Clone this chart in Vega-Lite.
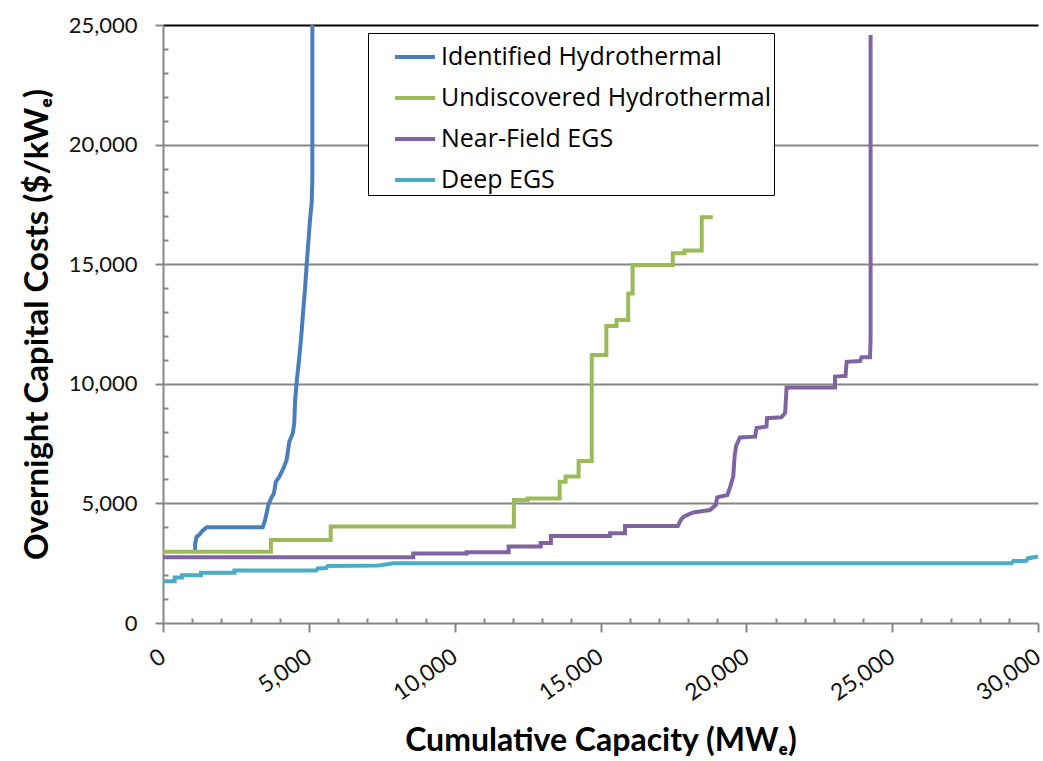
{
  "$schema": "https://vega.github.io/schema/vega-lite/v6.json",
  "autosize": {"type": "none"},
  "padding": {"left": 163, "top": 25, "right": 5, "bottom": 138},
  "width": 875,
  "height": 598,
  "background": "white",
  "config": {
    "view": {"stroke": null},
    "font": "Lato"
  },
  "data": {
    "values": [
      {"s": "Identified Hydrothermal", "i": 1, "x": 1100, "y": 3000},
      {"s": "Identified Hydrothermal", "i": 2, "x": 1100, "y": 3300},
      {"s": "Identified Hydrothermal", "i": 3, "x": 1150, "y": 3600},
      {"s": "Identified Hydrothermal", "i": 4, "x": 1250, "y": 3700},
      {"s": "Identified Hydrothermal", "i": 5, "x": 1350, "y": 3850},
      {"s": "Identified Hydrothermal", "i": 6, "x": 1500, "y": 4000},
      {"s": "Identified Hydrothermal", "i": 7, "x": 3420, "y": 4000},
      {"s": "Identified Hydrothermal", "i": 8, "x": 3500, "y": 4300},
      {"s": "Identified Hydrothermal", "i": 9, "x": 3610, "y": 4930},
      {"s": "Identified Hydrothermal", "i": 10, "x": 3730, "y": 5280},
      {"s": "Identified Hydrothermal", "i": 11, "x": 3800, "y": 5400},
      {"s": "Identified Hydrothermal", "i": 12, "x": 3870, "y": 5900},
      {"s": "Identified Hydrothermal", "i": 13, "x": 3990, "y": 6120},
      {"s": "Identified Hydrothermal", "i": 14, "x": 4130, "y": 6470},
      {"s": "Identified Hydrothermal", "i": 15, "x": 4240, "y": 6810},
      {"s": "Identified Hydrothermal", "i": 16, "x": 4330, "y": 7580},
      {"s": "Identified Hydrothermal", "i": 17, "x": 4450, "y": 7930},
      {"s": "Identified Hydrothermal", "i": 18, "x": 4500, "y": 8350},
      {"s": "Identified Hydrothermal", "i": 19, "x": 4530, "y": 9320},
      {"s": "Identified Hydrothermal", "i": 20, "x": 4590, "y": 10160},
      {"s": "Identified Hydrothermal", "i": 21, "x": 4640, "y": 10720},
      {"s": "Identified Hydrothermal", "i": 22, "x": 4730, "y": 11830},
      {"s": "Identified Hydrothermal", "i": 23, "x": 4810, "y": 13090},
      {"s": "Identified Hydrothermal", "i": 24, "x": 4870, "y": 14000},
      {"s": "Identified Hydrothermal", "i": 25, "x": 4930, "y": 15050},
      {"s": "Identified Hydrothermal", "i": 26, "x": 5000, "y": 16200},
      {"s": "Identified Hydrothermal", "i": 27, "x": 5040, "y": 16850},
      {"s": "Identified Hydrothermal", "i": 28, "x": 5100, "y": 17600},
      {"s": "Identified Hydrothermal", "i": 29, "x": 5120, "y": 18500},
      {"s": "Identified Hydrothermal", "i": 30, "x": 5120, "y": 25000},

      {"s": "Undiscovered Hydrothermal", "i": 1, "x": 0, "y": 2980},
      {"s": "Undiscovered Hydrothermal", "i": 2, "x": 3700, "y": 2980},
      {"s": "Undiscovered Hydrothermal", "i": 3, "x": 3700, "y": 3470},
      {"s": "Undiscovered Hydrothermal", "i": 4, "x": 5750, "y": 3470},
      {"s": "Undiscovered Hydrothermal", "i": 5, "x": 5750, "y": 4030},
      {"s": "Undiscovered Hydrothermal", "i": 6, "x": 12030, "y": 4030},
      {"s": "Undiscovered Hydrothermal", "i": 7, "x": 12030, "y": 5140},
      {"s": "Undiscovered Hydrothermal", "i": 8, "x": 12500, "y": 5140},
      {"s": "Undiscovered Hydrothermal", "i": 9, "x": 12500, "y": 5210},
      {"s": "Undiscovered Hydrothermal", "i": 10, "x": 13600, "y": 5210},
      {"s": "Undiscovered Hydrothermal", "i": 11, "x": 13600, "y": 5900},
      {"s": "Undiscovered Hydrothermal", "i": 12, "x": 13800, "y": 5900},
      {"s": "Undiscovered Hydrothermal", "i": 13, "x": 13800, "y": 6120},
      {"s": "Undiscovered Hydrothermal", "i": 14, "x": 14250, "y": 6120},
      {"s": "Undiscovered Hydrothermal", "i": 15, "x": 14250, "y": 6770},
      {"s": "Undiscovered Hydrothermal", "i": 16, "x": 14700, "y": 6770},
      {"s": "Undiscovered Hydrothermal", "i": 17, "x": 14700, "y": 11200},
      {"s": "Undiscovered Hydrothermal", "i": 18, "x": 15200, "y": 11200},
      {"s": "Undiscovered Hydrothermal", "i": 19, "x": 15200, "y": 12420},
      {"s": "Undiscovered Hydrothermal", "i": 20, "x": 15550, "y": 12420},
      {"s": "Undiscovered Hydrothermal", "i": 21, "x": 15550, "y": 12670},
      {"s": "Undiscovered Hydrothermal", "i": 22, "x": 15950, "y": 12670},
      {"s": "Undiscovered Hydrothermal", "i": 23, "x": 15950, "y": 13780},
      {"s": "Undiscovered Hydrothermal", "i": 24, "x": 16100, "y": 13780},
      {"s": "Undiscovered Hydrothermal", "i": 25, "x": 16100, "y": 14970},
      {"s": "Undiscovered Hydrothermal", "i": 26, "x": 17480, "y": 14970},
      {"s": "Undiscovered Hydrothermal", "i": 27, "x": 17480, "y": 15460},
      {"s": "Undiscovered Hydrothermal", "i": 28, "x": 17880, "y": 15460},
      {"s": "Undiscovered Hydrothermal", "i": 29, "x": 17880, "y": 15570},
      {"s": "Undiscovered Hydrothermal", "i": 30, "x": 18470, "y": 15570},
      {"s": "Undiscovered Hydrothermal", "i": 31, "x": 18470, "y": 16960},
      {"s": "Undiscovered Hydrothermal", "i": 32, "x": 18850, "y": 16960},

      {"s": "Near-Field EGS", "i": 1, "x": 0, "y": 2745},
      {"s": "Near-Field EGS", "i": 2, "x": 8580, "y": 2745},
      {"s": "Near-Field EGS", "i": 3, "x": 8580, "y": 2910},
      {"s": "Near-Field EGS", "i": 4, "x": 10410, "y": 2910},
      {"s": "Near-Field EGS", "i": 5, "x": 10410, "y": 2960},
      {"s": "Near-Field EGS", "i": 6, "x": 11850, "y": 2960},
      {"s": "Near-Field EGS", "i": 7, "x": 11850, "y": 3200},
      {"s": "Near-Field EGS", "i": 8, "x": 12950, "y": 3200},
      {"s": "Near-Field EGS", "i": 9, "x": 12950, "y": 3340},
      {"s": "Near-Field EGS", "i": 10, "x": 13300, "y": 3340},
      {"s": "Near-Field EGS", "i": 11, "x": 13300, "y": 3640},
      {"s": "Near-Field EGS", "i": 12, "x": 15330, "y": 3640},
      {"s": "Near-Field EGS", "i": 13, "x": 15330, "y": 3750},
      {"s": "Near-Field EGS", "i": 14, "x": 15840, "y": 3750},
      {"s": "Near-Field EGS", "i": 15, "x": 15840, "y": 4050},
      {"s": "Near-Field EGS", "i": 16, "x": 17650, "y": 4050},
      {"s": "Near-Field EGS", "i": 17, "x": 17750, "y": 4300},
      {"s": "Near-Field EGS", "i": 18, "x": 17850, "y": 4450},
      {"s": "Near-Field EGS", "i": 19, "x": 18180, "y": 4620},
      {"s": "Near-Field EGS", "i": 20, "x": 18750, "y": 4720},
      {"s": "Near-Field EGS", "i": 21, "x": 18950, "y": 4930},
      {"s": "Near-Field EGS", "i": 22, "x": 19000, "y": 5250},
      {"s": "Near-Field EGS", "i": 23, "x": 19350, "y": 5350},
      {"s": "Near-Field EGS", "i": 24, "x": 19450, "y": 5700},
      {"s": "Near-Field EGS", "i": 25, "x": 19550, "y": 6120},
      {"s": "Near-Field EGS", "i": 26, "x": 19600, "y": 7000},
      {"s": "Near-Field EGS", "i": 27, "x": 19650, "y": 7400},
      {"s": "Near-Field EGS", "i": 28, "x": 19780, "y": 7760},
      {"s": "Near-Field EGS", "i": 29, "x": 20300, "y": 7790},
      {"s": "Near-Field EGS", "i": 30, "x": 20350, "y": 8150},
      {"s": "Near-Field EGS", "i": 31, "x": 20690, "y": 8210},
      {"s": "Near-Field EGS", "i": 32, "x": 20710, "y": 8560},
      {"s": "Near-Field EGS", "i": 33, "x": 21200, "y": 8600},
      {"s": "Near-Field EGS", "i": 34, "x": 21330, "y": 8780},
      {"s": "Near-Field EGS", "i": 35, "x": 21380, "y": 9850},
      {"s": "Near-Field EGS", "i": 36, "x": 23040, "y": 9850},
      {"s": "Near-Field EGS", "i": 37, "x": 23040, "y": 10300},
      {"s": "Near-Field EGS", "i": 38, "x": 23400, "y": 10330},
      {"s": "Near-Field EGS", "i": 39, "x": 23440, "y": 10920},
      {"s": "Near-Field EGS", "i": 40, "x": 23900, "y": 10950},
      {"s": "Near-Field EGS", "i": 41, "x": 23950, "y": 11110},
      {"s": "Near-Field EGS", "i": 42, "x": 24240, "y": 11110},
      {"s": "Near-Field EGS", "i": 43, "x": 24260, "y": 11830},
      {"s": "Near-Field EGS", "i": 44, "x": 24260, "y": 24580},

      {"s": "Deep EGS", "i": 1, "x": 0, "y": 1750},
      {"s": "Deep EGS", "i": 2, "x": 400, "y": 1750},
      {"s": "Deep EGS", "i": 3, "x": 400, "y": 1900},
      {"s": "Deep EGS", "i": 4, "x": 650, "y": 1900},
      {"s": "Deep EGS", "i": 5, "x": 650, "y": 2000},
      {"s": "Deep EGS", "i": 6, "x": 1300, "y": 2000},
      {"s": "Deep EGS", "i": 7, "x": 1300, "y": 2100},
      {"s": "Deep EGS", "i": 8, "x": 2450, "y": 2100},
      {"s": "Deep EGS", "i": 9, "x": 2450, "y": 2200},
      {"s": "Deep EGS", "i": 10, "x": 5250, "y": 2200},
      {"s": "Deep EGS", "i": 11, "x": 5300, "y": 2280},
      {"s": "Deep EGS", "i": 12, "x": 5600, "y": 2300},
      {"s": "Deep EGS", "i": 13, "x": 5650, "y": 2380},
      {"s": "Deep EGS", "i": 14, "x": 7400, "y": 2400},
      {"s": "Deep EGS", "i": 15, "x": 7900, "y": 2500},
      {"s": "Deep EGS", "i": 16, "x": 29100, "y": 2500},
      {"s": "Deep EGS", "i": 17, "x": 29150, "y": 2590},
      {"s": "Deep EGS", "i": 18, "x": 29600, "y": 2600},
      {"s": "Deep EGS", "i": 19, "x": 29650, "y": 2700},
      {"s": "Deep EGS", "i": 20, "x": 30000, "y": 2780}
    ]
  },
  "mark": {"type": "line", "strokeWidth": 4, "strokeJoin": "miter", "strokeCap": "butt"},
  "encoding": {
    "x": {
      "field": "x", "type": "quantitative",
      "scale": {"domain": [0, 30000], "nice": false},
      "title": "Cumulative Capacity (MWₑ)",
      "axis": {
        "values": [0,1000,2000,3000,4000,5000,6000,7000,8000,9000,10000,11000,12000,13000,14000,15000,16000,17000,18000,19000,20000,21000,22000,23000,24000,25000,26000,27000,28000,29000,30000],
        "labelExpr": "datum.value % 5000 === 0 ? format(datum.value, ',') : ''",
        "grid": false,
        "domainColor": "#868686", "domainWidth": 2,
        "tickColor": "#868686", "tickWidth": 2,
        "tickSize": {"condition": {"test": "datum.value % 5000 === 0", "value": 9}, "value": -5},
        "labelAngle": -35, "labelAlign": "right", "labelBaseline": "middle",
        "labelPadding": 22, "labelDx": -10,
        "labelFont": "Lato", "labelFontSize": 23, "labelColor": "#111",
        "labelOverlap": false, "labelBound": false, "labelFlush": false,
        "titleFont": "Lato", "titleFontSize": 32, "titleFontWeight": "bold", "titleColor": "#000",
        "titlePadding": 20
      }
    },
    "y": {
      "field": "y", "type": "quantitative",
      "scale": {"domain": [0, 25000], "nice": false},
      "title": "Overnight Capital Costs ($/kWₑ)",
      "axis": {
        "values": [0,1000,2000,3000,4000,5000,6000,7000,8000,9000,10000,11000,12000,13000,14000,15000,16000,17000,18000,19000,20000,21000,22000,23000,24000,25000],
        "labelExpr": "datum.value % 5000 === 0 ? format(datum.value, ',') : ''",
        "grid": true,
        "gridColor": {"condition": {"test": "datum.value === 25000", "value": "#000"}, "value": "#868686"},
        "gridOpacity": {"condition": {"test": "datum.value % 5000 === 0 && datum.value > 0", "value": 1}, "value": 0},
        "gridWidth": 2,
        "domainColor": "#868686", "domainWidth": 2,
        "tickColor": "#868686", "tickWidth": 2,
        "tickSize": {"condition": {"test": "datum.value % 5000 === 0", "value": 8}, "value": -5},
        "labelPadding": 18,
        "labelFont": "Lato", "labelFontSize": 22, "labelColor": "#111",
        "labelOverlap": false, "labelBound": false, "labelFlush": false,
        "titleFont": "Lato", "titleFontSize": 33, "titleFontWeight": "bold", "titleColor": "#000",
        "titlePadding": 14
      }
    },
    "color": {
      "field": "s", "type": "nominal",
      "scale": {
        "domain": ["Identified Hydrothermal", "Undiscovered Hydrothermal", "Near-Field EGS", "Deep EGS"],
        "range": ["#4a7ebb", "#9bbb59", "#8064a2", "#4bacc6"]
      },
      "legend": {
        "title": null,
        "orient": "none",
        "legendX": 205,
        "legendY": 8,
        "fillColor": "white",
        "strokeColor": "black",
        "padding": 2,
        "symbolType": "stroke",
        "symbolSize": 1600,
        "symbolStrokeWidth": 4,
        "symbolOffset": 23,
        "labelFont": "Open Sans",
        "labelFontSize": 25,
        "labelColor": "#000",
        "labelOffset": 4,
        "labelLimit": 500,
        "rowPadding": 6
      }
    },
    "order": {"field": "i", "type": "quantitative"}
  }
}
